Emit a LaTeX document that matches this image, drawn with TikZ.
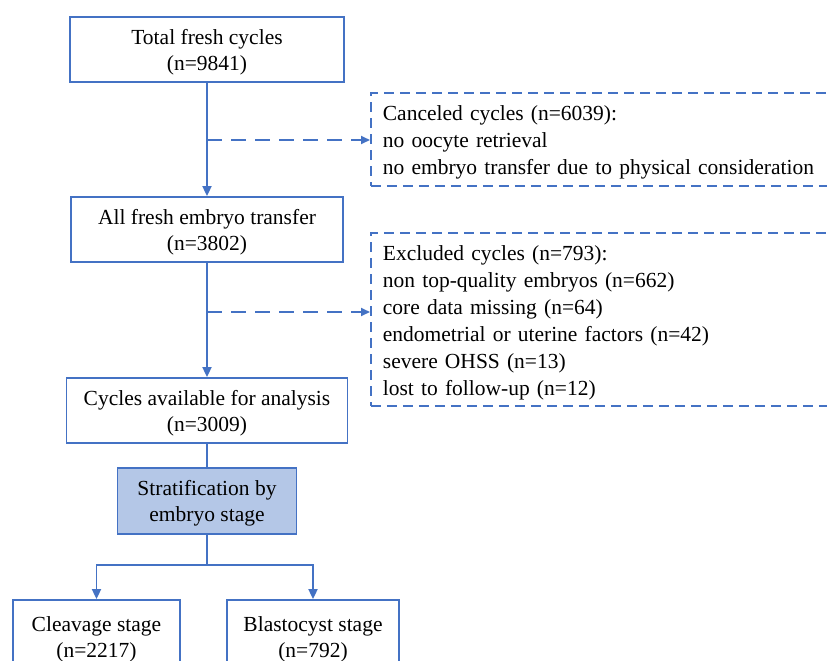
\documentclass[tikz,border=0pt]{standalone}
\usepackage{fontspec}
\setmainfont{Liberation Serif}
\usetikzlibrary{arrows.meta}
\definecolor{lineblue}{RGB}{68,114,196}
\definecolor{fillblue}{RGB}{180,199,231}
\begin{document}
\begin{tikzpicture}[x=1pt,y=-1pt,
  txt/.style={font=\fontsize{21.5}{26}\selectfont},
  mainbox/.style={txt, draw=lineblue, line width=1.8pt, align=center, inner sep=0pt, text depth=0pt, minimum height=65pt},
  notebox/.style={font=\fontsize{21.5}{27}\selectfont, draw=lineblue, line width=1.8pt, dash pattern=on 10pt off 6pt, align=left, inner xsep=12pt, inner ysep=0pt, text width=445pt, anchor=west},
  flow/.style={draw=lineblue, line width=1.8pt},
  arr/.style={flow, -{Triangle[length=10pt,width=9pt]}},
  dasharr/.style={flow, dash pattern=on 15pt off 9pt, -{Triangle[length=9pt,width=8pt]}}]
\useasboundingbox (0,0) rectangle (827,661);
\clip (0,0) rectangle (827,661);
\fill[white] (0,0) rectangle (827,661);

\node[mainbox, minimum width=274pt] (top) at (207,49.5) {Total fresh cycles\\(n=9841)};
\node[mainbox, minimum width=272pt] (all) at (207,229.5) {All fresh embryo transfer\\(n=3802)};
\node[mainbox, minimum width=281pt] (cyc) at (207,410.5) {Cycles available  for analysis\\(n=3009)};
\node[mainbox, minimum width=179pt, minimum height=66pt, fill=fillblue] (strat) at (207,501) {Stratification  by\\embryo  stage};
\node[mainbox, minimum width=167pt, minimum height=74pt] (cleav) at (96.5,637) {Cleavage  stage\\(n=2217)};
\node[mainbox, minimum width=172pt, minimum height=74pt] (blast) at (313,637) {Blastocyst  stage\\(n=792)};

\node[notebox, minimum height=93pt, text depth=52.5pt] (cancel) at (370,139.5) {Canceled cycles (n=6039):\\no oocyte  retrieval\\no embryo  transfer due to physical  consideration};
\node[notebox, minimum height=173pt, text depth=133.5pt] (excl) at (370,319.5) {Excluded cycles (n=793):\\non top-quality  embryos  (n=662)\\core data missing (n=64)\\endometrial  or uterine factors (n=42)\\severe OHSS (n=13)\\lost to follow-up  (n=12)};

\coordinate (j1) at (207,140);
\coordinate (j2) at (207,312);
\coordinate (split) at (207,565);

\draw[arr] (top) -- (all);
\draw[arr] (all) -- (cyc);
\draw[flow] (cyc) -- (strat);
\draw[dasharr] (j1) -- (j1 -| cancel.west);
\draw[dasharr] (j2) -- (j2 -| excl.west);
\draw[flow] (strat) -- (split);
\draw[arr] (split) -| (cleav.north);
\draw[arr] (split) -| (blast.north);
\end{tikzpicture}
\end{document}
